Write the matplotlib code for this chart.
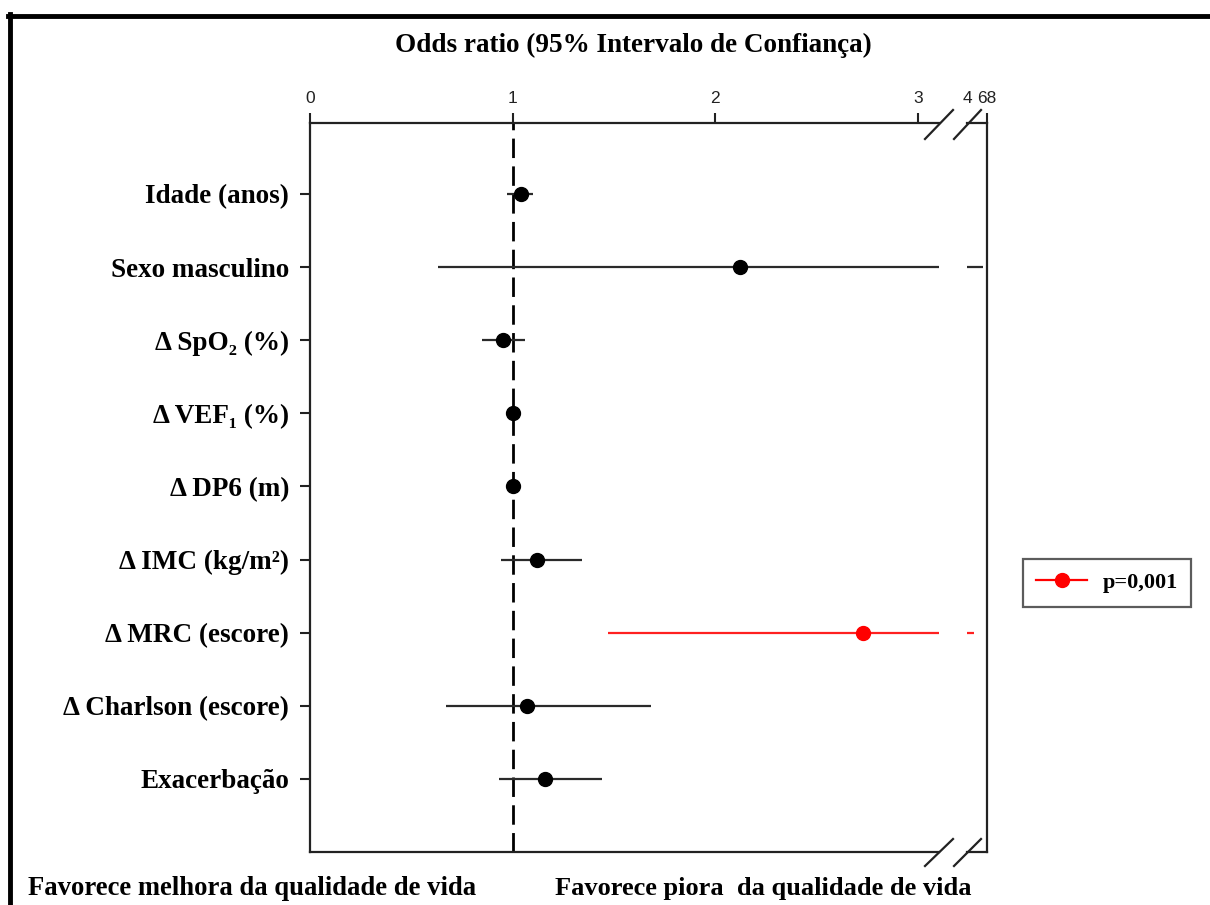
import numpy as np
import matplotlib.pyplot as plt
from matplotlib.lines import Line2D

# Data (odds ratio and 95% CI)
labels = ['Idade (anos)', 'Sexo masculino', 'Δ SpO₂ (%)', 'Δ VEF₁ (%)', 'Δ DP6 (m)',
          'Δ IMC (kg/m²)', 'Δ MRC (escore)', 'Δ Charlson (escore)', 'Exacerbação']
odds = [1.04, 2.12, 0.95, 1.00, 1.00, 1.12, 2.73, 1.07, 1.16]
ci_low = [0.97, 0.63, 0.85, 0.99, 0.99, 0.94, 1.47, 0.67, 0.93]
ci_high = [1.10, 55.0, 1.06, 1.01, 1.01, 1.34, 26.0, 1.68, 1.44]
colors = ['black'] * 6 + ['red'] + ['black'] * 2
signif_label = 'p=0,001'

serif = ['Liberation Serif', 'DejaVu Serif']
sans = ['Liberation Sans', 'DejaVu Sans']

W, H = 1210, 905
fig = plt.figure(figsize=(W / 100, H / 100), dpi=100)

def fx(px):
    return px / W

def fy(py):
    return 1 - py / H

ax1 = fig.add_axes([fx(310), fy(852), fx(939 - 310), fy(123) - fy(852)])
ax2 = fig.add_axes([fx(967), fy(852), fx(987 - 967), fy(123) - fy(852)])

ypos = np.arange(1, len(labels) + 1)

for ax in (ax1, ax2):
    for i in range(len(labels)):
        lc = '#ff2020' if colors[i] == 'red' else '#2a2a2a'
        ax.plot([ci_low[i], ci_high[i]], [ypos[i], ypos[i]], color=lc, lw=1.6,
                solid_capstyle='butt', zorder=2)
    ax.set_ylim(10.0, 0.03)
    for s in ax.spines.values():
        s.set_linewidth(1.6)
        s.set_color('#222222')
    ax.xaxis.tick_top()
    ax.tick_params(axis='x', direction='out', length=7, width=1.5, pad=5,
                   labelsize=12.5, colors='#222222')

for i in range(len(labels)):
    ax1.plot(odds[i], ypos[i], 'o', color=colors[i], ms=10, zorder=3)

ax1.axvline(1, color='black', lw=2, ls=(0, (7, 3)), zorder=1)
ax1.set_xlim(0, 3.103)
ax1.set_xticks([0, 1, 2, 3])
ax1.spines['right'].set_visible(False)
ax1.set_yticks(ypos)
ax1.set_yticklabels(labels)
ax1.tick_params(axis='y', direction='out', length=7, width=1.5, pad=8,
                color='#222222', labelcolor='black')
for t in ax1.get_yticklabels():
    t.set_family(serif)
    t.set_fontweight('bold')
    t.set_fontsize(19.5)
for t in ax1.get_xticklabels():
    t.set_family(sans)

ax2.set_xlim(4, 68)
ax2.set_xticks([4, 68])
ax2.set_xticklabels(['4', '68'])
ax2.xaxis.get_major_ticks()[0].tick2line.set_visible(False)
ax2.spines['left'].set_visible(False)
ax2.set_yticks([])
for t in ax2.get_xticklabels():
    t.set_family(sans)

# break marks
for (x0, x1) in [(925, 953), (954, 981)]:
    for (yb, yt) in [(139, 110), (866, 839)]:
        fig.add_artist(Line2D([fx(x0), fx(x1)], [fy(yb), fy(yt)], color='#222222',
                              lw=1.6, transform=fig.transFigure))

# outer frame
fig.add_artist(Line2D([fx(8), fx(1210)], [fy(16), fy(16)], color='black', lw=3.5,
                      transform=fig.transFigure))
fig.add_artist(Line2D([fx(10), fx(10)], [fy(14), fy(905)], color='black', lw=3.5,
                      transform=fig.transFigure))

# legend
handle = Line2D([], [], color='red', marker='o', ms=10, lw=1.6)
leg = fig.legend([handle], [signif_label], loc='center',
                 bbox_to_anchor=(fx(1107), fy(583)), frameon=True, fancybox=False,
                 handlelength=2.3, handletextpad=0.7, borderpad=0.6,
                 prop={'family': serif, 'weight': 'bold', 'size': 16})
leg.get_frame().set_edgecolor('#333333')
leg.get_frame().set_linewidth(1.6)

fig.text(fx(633), fy(45), 'Odds ratio (95% Intervalo de Confiança)', ha='center', va='center',
         family=serif, fontweight='bold', fontsize=19.5)
fig.text(fx(28), fy(888), 'Favorece melhora da qualidade de vida', ha='left', va='center',
         family=serif, fontweight='bold', fontsize=19.2)
fig.text(fx(555), fy(888), 'Favorece piora  da qualidade de vida', ha='left', va='center',
         family=serif, fontweight='bold', fontsize=19)

fig.savefig('out.png', dpi=100)
